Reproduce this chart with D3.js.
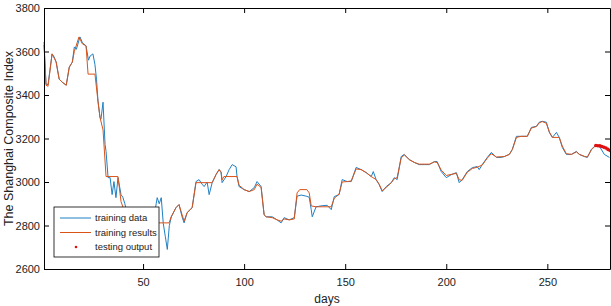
<!DOCTYPE html>
<html>
<head>
<meta charset="utf-8">
<script src="https://cdn.jsdelivr.net/npm/d3@7"></script>
<style>
  body { margin: 0; background: #fff; }
  text { font-family: Arial, "Liberation Sans", sans-serif; }
</style>
</head>
<body>
<svg id="chart"></svg>
<script>
// training data (day, index)
const trainDays = [1,2,3,5,6,7,8.5,10,12,13.5,15,16,17,18.8,20,21.8,23,23.8,25.2,26.2,27,27.7,28.7,29.2,30.2,31.2,31.7,32.7,33.7,34.7,35.6,36.6,37.6,39.1,40,41,43,46,49,52,55,56.5,57,58,59,60,61,62,63,64,66.3,67.8,69.3,70.3,71.8,74.3,76.2,77.7,79.2,80.2,81.7,82.7,84.2,86.1,87.6,88.6,89.1,91.1,92.6,94.1,96,96.5,97.5,100,102.5,105,106.4,108.4,109.9,110.9,113.9,116.3,118.3,119.8,122.3,124.8,126.2,128.2,130.7,132.2,133.2,133.7,135.6,138.6,141.1,143.1,144.6,147,148.5,151,153,155.4,157.9,160.4,162.9,163.9,165.3,166.8,168.3,170.3,172.8,174.3,175.7,177.7,179.2,181.7,184.2,186.6,189.1,191.6,194.1,195.5,197.5,200,202.5,205,206.4,207.9,210.4,212.9,215.3,216.3,217.8,220.3,222.3,224.8,227.2,228.7,231.2,232.7,234.7,237.1,240.1,242.1,244.6,246,247.5,249.5,251,252.5,254.5,255.9,257.4,259.4,261.9,264.4,265.8,268.3,269.8,271.8,273.3,274.8,275.7,278.2,280.7];
const trainVals = [3630,3450,3448,3589,3575,3552,3473,3459,3445,3528,3551,3621,3610,3667,3640,3626,3560,3579,3589,3540,3470,3372,3297,3290,3367,3173,3141,3020,3020,2942,3002,2928,3020,2942,2930,2900,2820,2760,2790,2740,2820,2900,2928,2900,2928,2810,2750,2690,2800,2840,2882,2896,2840,2812,2859,2882,3002,3011,2990,2979,3000,2942,2997,3034,3057,3043,2997,3025,3057,3080,3070,3025,2979,2965,2956,2974,3002,2979,2849,2840,2840,2826,2812,2836,2826,2836,2935,2940,2935,2930,2873,2840,2886,2891,2893,2873,2933,2942,3011,3002,3002,3067,3057,3043,3025,3048,3011,2988,2956,2979,2997,3020,3011,3117,3127,3103,3090,3080,3080,3080,3094,3094,3048,3020,3034,3043,2997,3011,3048,3066,3071,3057,3080,3113,3136,3113,3113,3117,3127,3150,3210,3210,3210,3251,3256,3275,3279,3275,3228,3205,3228,3205,3159,3127,3127,3141,3127,3117,3113,3150,3164,3168,3165,3127,3113];

// training results
const resDays = [1,2,3,5,7,8.5,10,12,13.5,15,16,18.3,20,21.8,22.8,26.2,27.7,28.7,30.2,31.7,37.6,39.1,41,44,48,52,55,57.5,62.9,63.9,66.3,67.8,69.3,70.3,71.8,74.3,76.2,84.2,86.1,87.6,88.6,89.1,90,96.5,97.5,100,102.5,105,106.4,108.4,109.9,110.9,113.9,116.3,118.3,119.8,122.3,124.8,126.2,127.5,131,132.2,133.2,135.6,143.1,144.6,147,148.5,151,153,155.4,157.9,160.4,162.9,165.3,166.8,168.3,170.3,172.8,174.3,175.7,177.7,179.2,181.7,184.2,186.6,191.6,194.1,195.5,197.5,200,205,206.4,207.9,210.4,212.9,215.3,217.8,220.3,222.3,224.8,228.7,231.2,232.7,234.7,237,240.1,242.1,244.6,246,247.5,249.5,251,252.5,255.9,257.4,259.4,261.9,264.4,265.8,268.3,269.8,271.8,273.3,274];
const resVals = [3644,3445,3440,3589,3552,3473,3459,3445,3528,3551,3600,3667,3635,3626,3496,3496,3372,3297,3240,3025,3025,2910,2860,2800,2770,2760,2800,2812,2812,2840,2882,2896,2850,2820,2859,2882,2997,2997,3034,3057,3048,3010,3025,3025,2985,2965,2956,2965,2990,2975,2849,2840,2836,2826,2820,2830,2826,2830,2950,2965,2965,2950,2890,2886,2886,2925,2945,3000,3002,3005,3060,3057,3043,3025,3011,2990,2960,2975,2997,3015,3020,3110,3125,3103,3090,3082,3082,3092,3090,3055,3030,3040,3010,3008,3045,3062,3068,3078,3110,3130,3115,3117,3127,3150,3205,3210,3210,3248,3255,3272,3278,3270,3230,3205,3205,3165,3130,3127,3138,3127,3118,3115,3148,3162,3165];

// testing output
const testDays = [274,275,276,277,278,279,280,281];
const testVals = [3168,3167,3166,3163,3160,3156,3150,3145];

const xTicks = [50,100,150,200,250];
const yTicks = [2600,2800,3000,3200,3400,3600,3800];

const legendItems = [
  { label: "training data", color: "#1f80c4", kind: "line" },
  { label: "training results", color: "#d95319", kind: "line" },
  { label: "testing output", color: "#e01010", kind: "dot" }
];

const W = 611, H = 306;
const margin = { top: 8, right: 1, bottom: 37, left: 44 };
const iw = W - margin.left - margin.right;
const ih = H - margin.top - margin.bottom;

const svg = d3.select("#chart").attr("width", W).attr("height", H);
const g = svg.append("g").attr("transform", `translate(${margin.left},${margin.top})`);

const x = d3.scaleLinear().domain([1, 281]).range([0, iw]);
const y = d3.scaleLinear().domain([2600, 3800]).range([ih, 0]);

const line = d3.line().x(d => x(d[0])).y(d => y(d[1]));

g.append("path")
  .datum(d3.zip(trainDays, trainVals))
  .attr("fill", "none")
  .attr("stroke", legendItems[0].color)
  .attr("stroke-width", 1)
  .attr("d", line);

g.append("path")
  .datum(d3.zip(resDays, resVals))
  .attr("fill", "none")
  .attr("stroke", legendItems[1].color)
  .attr("stroke-width", 1)
  .attr("d", line);

g.selectAll("circle.test")
  .data(d3.zip(testDays, testVals))
  .join("circle")
  .attr("class", "test")
  .attr("cx", d => x(d[0]))
  .attr("cy", d => y(d[1]))
  .attr("r", 1.8)
  .attr("fill", legendItems[2].color);

// axes: box with inward ticks on all four sides
const axisStyle = sel => {
  sel.select(".domain").attr("stroke", "#000");
  sel.selectAll(".tick line").attr("stroke", "#000");
  sel.selectAll("text").attr("fill", "#222").style("font-size", "11px");
};
const fmt = d3.format("d");

g.append("g")
  .attr("transform", `translate(0,${ih})`)
  .call(d3.axisBottom(x).tickValues(xTicks).tickSize(-5).tickSizeOuter(0).tickPadding(9).tickFormat(fmt))
  .call(axisStyle);
g.append("g")
  .call(d3.axisTop(x).tickValues(xTicks).tickSize(-5).tickSizeOuter(0).tickFormat(""))
  .call(axisStyle);
g.append("g")
  .call(d3.axisLeft(y).tickValues(yTicks).tickSize(-5).tickSizeOuter(0).tickPadding(4).tickFormat(fmt))
  .call(axisStyle);
g.append("g")
  .attr("transform", `translate(${iw},0)`)
  .call(d3.axisRight(y).tickValues(yTicks).tickSize(-5).tickSizeOuter(0).tickFormat(""))
  .call(axisStyle);

// axis titles
svg.append("text")
  .attr("x", margin.left + iw / 2)
  .attr("y", 303)
  .attr("text-anchor", "middle")
  .attr("fill", "#222")
  .style("font-size", "12px")
  .text("days");

svg.append("text")
  .attr("transform", `translate(13,${margin.top + ih / 2}) rotate(-90)`)
  .attr("text-anchor", "middle")
  .attr("fill", "#222")
  .style("font-size", "12.5px")
  .text("The Shanghai Composite Index");

// legend
const lg = svg.append("g").attr("transform", "translate(54,207)");
lg.append("rect")
  .attr("width", 105).attr("height", 50)
  .attr("fill", "#fff").attr("stroke", "#000").attr("stroke-width", 0.8);

const rows = lg.selectAll(".row")
  .data(legendItems)
  .join("g")
  .attr("class", "row")
  .attr("transform", (d, i) => `translate(0,${11 + i * 14.5})`);

rows.filter(d => d.kind === "line").append("line")
  .attr("x1", 6).attr("x2", 37)
  .attr("stroke", d => d.color).attr("stroke-width", 1);
rows.filter(d => d.kind === "dot").append("circle")
  .attr("cx", 22).attr("r", 1.3)
  .attr("fill", d => d.color);
rows.append("text")
  .attr("x", 41).attr("dy", "0.35em")
  .attr("fill", "#222")
  .style("font-size", "9.5px")
  .text(d => d.label);
</script>
</body>
</html>
